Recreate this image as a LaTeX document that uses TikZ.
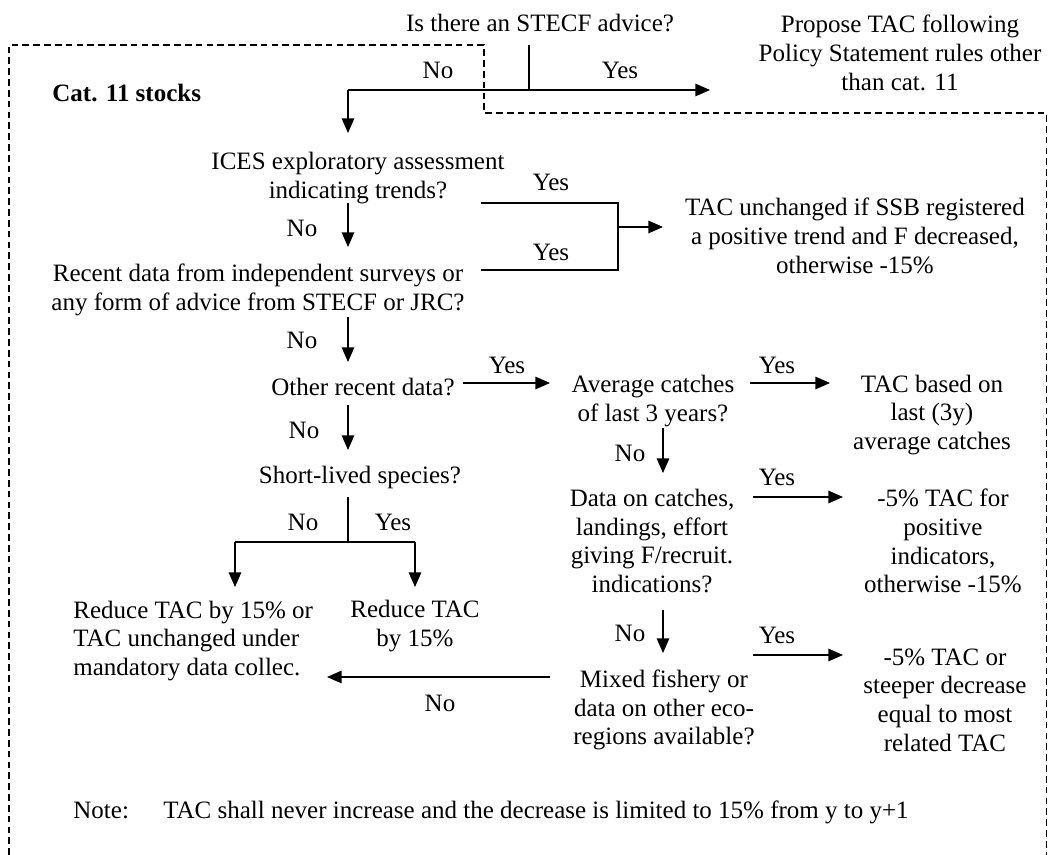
\documentclass[tikz,border=0pt]{standalone}
\usepackage{fontspec}
\setmainfont{Liberation Serif}
\usetikzlibrary{arrows.meta,positioning}
\tikzstyle{line} =[line width=0.6pt]
\tikzstyle{edge} =[line width=0.6pt, -{Triangle[length=7pt,width=6pt]}]
\tikzstyle{frame}=[line width=0.6pt, dash pattern=on 3.2pt off 2pt]
\tikzstyle{txt}  =[align=center, inner sep=0pt, font=\fontsize{12}{13.8}\selectfont]
\tikzstyle{lbl}  =[inner sep=0pt, font=\fontsize{12}{13.8}\selectfont]

\begin{document}
\begin{tikzpicture}[x=0.48pt, y=-0.48pt]
    \useasboundingbox (0,0) rectangle (1048,855);
    % dashed frame of cat. 11
    \draw[frame] (9,855) -- (9,45) -- (484,45) -- (484,113) -- (1046.5,113) -- (1046.5,855);

    \node[txt] (advice) at (540,23) {Is there an STECF advice?};
    \node[txt] (propose) at (900,53) {Propose TAC following\\Policy Statement rules other\\than cat. 11};
    \node[txt, anchor=west, font=\fontsize{12}{13.8}\selectfont\bfseries] (cat) at (52,93) {Cat. 11 stocks};
    \node[txt] (ices) at (358,178) {ICES exploratory assessment\\indicating trends?};
    \node[txt] (recent) at (258,290) {Recent data from independent surveys or\\any form of advice from STECF or JRC?};
    \node[txt] (unchanged) at (855,236) {TAC unchanged if SSB registered\\a positive trend and F decreased,\\otherwise -15\%};
    \node[txt] (other) at (363,387) {Other recent data?};
    \node[txt] (average) at (653,401) {Average catches\\of last 3 years?};
    \node[txt] (based) at (932,415) {TAC based on\\last (3y)\\average catches};
    \node[txt] (short) at (360,477) {Short-lived species?};
    \node[txt] (data) at (652,541) {Data on catches,\\landings, effort\\giving F/recruit.\\indications?};
    \node[txt] (minus) at (943,541) {-5\% TAC for\\positive\\indicators,\\otherwise -15\%};
    \node[txt, align=left, anchor=west] (reduceA) at (73,641) {Reduce TAC by 15\% or\\TAC unchanged under\\mandatory data collec.};
    \node[txt] (reduceB) at (415,626) {Reduce TAC\\by 15\%};
    \node[txt] (mixed) at (664,710) {Mixed fishery or\\data on other eco-\\regions available?};
    \node[txt] (steeper) at (945,700) {-5\% TAC or\\steeper decrease\\equal to most\\related TAC};
    \node[txt, anchor=base west] (note) at (73,819) {Note:};
    \node[txt, anchor=base west] (notetxt) at (163,819) {TAC shall never increase and the decrease is limited to 15\% from y to y+1};

    % yes / no labels
    \foreach \t/\x/\y [count=\i] in {No/438/70, Yes/620/70, Yes/551/182, Yes/551/252,
        No/302/228, No/302/340, Yes/507/365, Yes/777/365, No/304/430, No/630/453,
        Yes/777/477, No/303/522, Yes/393/522, No/630/633, Yes/777/635, No/440/703}
        \node[lbl] (lab\i) at (\x,\y) {\t};

    % connector ends
    \path (529,45) coordinate (a0) (529,90) coordinate (a1) (348,90) coordinate (a2)
          (710,90) coordinate (a3) (348,133) coordinate (a4)
          (348,203) coordinate (b0) (348,247) coordinate (b1)
          (481,203) coordinate (c0) (618,203) coordinate (c1) (618,270) coordinate (c2)
          (481,270) coordinate (c3) (618,227) coordinate (c4) (663,227) coordinate (c5)
          (348,317) coordinate (d0) (348,362) coordinate (d1)
          (463,383) coordinate (e0) (550,383) coordinate (e1)
          (750,383) coordinate (e2) (830,383) coordinate (e3)
          (348,405) coordinate (f0) (348,450) coordinate (f1)
          (348,497) coordinate (g0) (348,542) coordinate (g1)
          (235,542) coordinate (g2) (415,542) coordinate (g3)
          (235,587) coordinate (g4) (415,587) coordinate (g5)
          (663,428) coordinate (h0) (663,473) coordinate (h1)
          (753,497) coordinate (i0) (843,497) coordinate (i1)
          (663,610) coordinate (k0) (663,653) coordinate (k1)
          (753,655) coordinate (l0) (843,655) coordinate (l1)
          (550,677) coordinate (m0) (327,677) coordinate (m1);

    \draw[line] (a0) -- (a1); \draw[edge] (a2) -- (a3); \draw[edge] (a2) -- (a4);
    \draw[edge] (b0) -- (b1);
    \draw[line] (c0) -- (c1) -- (c2) -- (c3); \draw[edge] (c4) -- (c5);
    \draw[edge] (d0) -- (d1);
    \draw[edge] (e0) -- (e1); \draw[edge] (e2) -- (e3);
    \draw[edge] (f0) -- (f1);
    \draw[line] (g0) -- (g1); \draw[line] (g2) -- (g3);
    \draw[edge] (g2) -- (g4); \draw[edge] (g3) -- (g5);
    \draw[edge] (h0) -- (h1); \draw[edge] (i0) -- (i1);
    \draw[edge] (k0) -- (k1); \draw[edge] (l0) -- (l1);
    \draw[edge] (m0) -- (m1);
\end{tikzpicture}
\end{document}
